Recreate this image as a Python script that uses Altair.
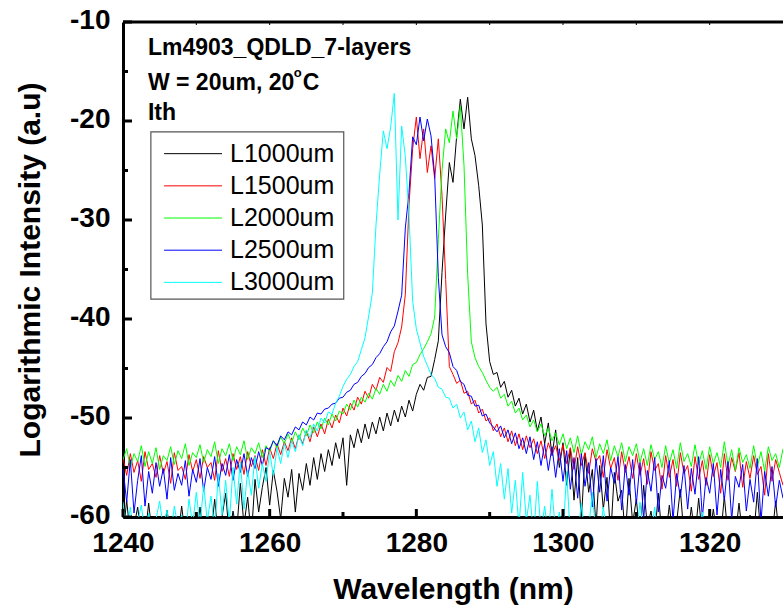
import altair as alt
import numpy as np
import pandas as pd

# ---------------- data ----------------
WL_START, WL_STOP, WL_STEP = 1240.0, 1330.0, 0.5

series_names = ["L1000um", "L1500um", "L2000um", "L2500um", "L3000um"]
series_colors = ["#000000", "#FF0000", "#00FF00", "#0000FF", "#00FFFF"]

l1000 = [
    -62.0, -58.3, -62.0, -61.0, -59.0, -62.0, -62.0, -58.6, -62.0, -60.5, -62.0, -62.0, -59.3, -62.0, -61.5, -62.0, -58.9, -62.0, -62.0, -60.2,
    -62.0, -59.0, -62.0, -61.0, -62.0, -58.2, -62.0, -60.0, -57.6, -62.0, -59.4, -61.5, -56.6, -60.8, -58.0, -62.0, -56.2, -59.5, -57.0, -55.0,
    -58.8, -55.3, -57.4, -60.2, -56.1, -58.0, -55.2, -59.5, -55.6, -57.3, -54.6, -56.8, -54.0, -56.2, -53.6, -55.4, -53.2, -54.8, -52.5, -54.1,
    -52.0, -56.8, -51.7, -53.0, -51.1, -52.5, -50.6, -52.1, -50.4, -51.6, -49.9, -51.3, -49.5, -50.8, -49.2, -50.4, -48.8, -49.9, -48.2, -49.3,
    -47.6, -46.6, -47.2, -45.9, -45.8, -44.1, -42.2, -35.3, -29.5, -24.2, -26.2, -21.5, -17.8, -20.8, -17.6, -21.8, -23.5, -26.5, -30.5, -40.5,
    -44.3, -45.6, -45.4, -46.9, -46.3, -47.9, -47.2, -48.8, -48.0, -49.6, -48.6, -50.4, -49.2, -51.3, -49.9, -52.6, -50.5, -53.8, -51.2, -55.0,
    -52.5, -56.8, -53.1, -58.3, -54.0, -60.4, -53.6, -57.5, -55.2, -61.0, -54.8, -59.2, -56.0, -62.0, -55.5, -58.4, -57.3, -62.0, -56.1, -60.6,
    -58.2, -62.0, -56.8, -61.0, -59.4, -62.0, -57.6, -62.0, -62.0, -58.8, -62.0, -60.5, -57.2, -62.0, -62.0, -59.0, -62.0, -58.1, -62.0, -61.2,
    -62.0, -59.2, -62.0, -62.0, -57.9, -62.0, -60.4, -62.0, -58.6, -62.0, -62.0, -59.8, -62.0, -57.5, -62.0, -62.0, -60.0, -62.0, -58.4, -62.0, -61.0,
]

l1500 = [
    -54.0, -55.8, -53.6, -55.5, -54.3, -56.4, -53.4, -55.2, -54.6, -56.0, -53.8, -55.6, -54.4, -56.6, -53.5, -55.3, -54.9, -56.2, -53.7, -55.4,
    -54.2, -56.1, -53.9, -55.0, -54.5, -56.3, -53.3, -55.4, -54.1, -55.9, -53.6, -55.2, -53.9, -55.7, -53.4, -54.9, -53.8, -55.3, -53.2, -54.8,
    -53.0, -54.1, -52.6, -53.7, -52.4, -53.3, -52.0, -53.1, -51.7, -52.6, -51.3, -52.4, -50.9, -51.9, -50.6, -51.6, -50.1, -51.0, -49.7, -50.5,
    -49.0, -49.8, -48.5, -49.2, -47.9, -48.6, -47.3, -48.0, -46.6, -47.2, -45.9, -46.4, -44.9, -45.3, -43.3, -42.4, -40.8, -37.5, -28.5, -22.8,
    -19.6, -23.8, -20.8, -25.2, -22.5, -25.8, -21.8, -27.5, -36.0, -44.8, -45.6, -46.5, -46.2, -47.5, -47.3, -48.6, -48.2, -49.5, -49.1, -50.3,
    -50.0, -51.3, -50.6, -51.9, -51.0, -52.4, -51.3, -52.8, -51.6, -53.2, -51.8, -53.0, -52.1, -53.6, -52.3, -54.1, -52.5, -53.7, -52.8, -54.3,
    -52.7, -54.6, -53.0, -55.2, -52.9, -54.8, -53.5, -55.6, -53.1, -54.4, -53.8, -56.0, -53.2, -55.1, -54.0, -56.3, -53.4, -55.5, -53.9, -56.1,
    -53.6, -55.8, -54.1, -56.7, -53.4, -55.3, -54.6, -57.2, -53.8, -56.0, -54.2, -56.9, -53.5, -55.6, -54.8, -57.4, -53.9, -56.2, -54.3, -56.8,
    -53.7, -55.9, -54.5, -57.6, -53.6, -56.3, -54.0, -55.4, -53.5, -57.0, -54.4, -56.1, -53.8, -55.7, -54.9, -57.8, -53.6, -56.4, -54.2, -55.5, -56.8,
]

l2000 = [
    -54.2, -53.1, -55.0, -53.6, -54.4, -52.8, -54.9, -53.4, -54.6, -53.0, -55.2, -53.8, -54.3, -52.9, -54.7, -53.3, -54.1, -52.6, -54.8, -53.5,
    -54.0, -52.7, -54.5, -53.2, -53.9, -52.4, -54.6, -53.1, -53.8, -52.6, -54.3, -52.9, -53.7, -52.3, -54.2, -53.0, -53.6, -52.5, -54.0, -52.8,
    -53.4, -52.3, -53.0, -51.9, -52.6, -51.6, -52.5, -51.4, -52.2, -51.0, -51.8, -50.7, -51.5, -50.4, -51.1, -50.0, -50.7, -49.6, -50.3, -49.3,
    -49.6, -48.6, -49.2, -48.2, -48.9, -47.9, -48.4, -47.5, -48.1, -47.0, -47.6, -46.6, -47.3, -46.2, -46.8, -45.7, -46.3, -45.2, -45.8, -44.6,
    -44.4, -43.6, -43.0, -42.3, -41.5, -39.8, -32.0, -25.0, -20.8, -22.2, -19.0, -21.8, -18.5, -24.5, -35.5, -42.3, -43.9, -44.8, -45.4, -46.2,
    -46.9, -47.3, -46.9, -48.0, -47.6, -48.8, -48.3, -49.5, -49.0, -50.2, -49.7, -50.9, -50.2, -51.4, -50.6, -51.8, -51.0, -52.3, -51.5, -52.7,
    -51.6, -53.1, -52.0, -53.5, -51.8, -53.7, -52.4, -53.2, -51.9, -54.0, -52.6, -53.6, -52.2, -54.3, -52.8, -53.9, -52.5, -54.4, -52.9, -53.8,
    -52.6, -54.5, -53.1, -54.8, -52.7, -54.2, -53.4, -55.0, -52.8, -54.6, -53.2, -55.1, -52.5, -54.4, -53.6, -54.9, -52.7, -54.7, -53.3, -55.2,
    -52.9, -54.6, -53.5, -55.0, -52.4, -54.8, -53.2, -55.3, -53.0, -54.5, -53.7, -55.1, -52.8, -54.9, -53.4, -55.4, -52.9, -54.3, -53.6, -55.0, -53.1,
]

l2500 = [
    -55.0, -58.5, -54.2, -59.6, -56.3, -53.8, -58.9, -55.4, -57.6, -54.5, -56.9, -55.1, -58.2, -54.0, -57.3, -55.6, -56.8, -54.3, -57.9, -55.2,
    -56.5, -54.1, -57.4, -55.0, -56.2, -53.9, -56.9, -54.6, -55.8, -53.7, -56.3, -54.2, -55.5, -53.6, -55.9, -54.0, -55.1, -53.4, -54.8, -53.0,
    -53.2, -52.3, -52.8, -51.8, -52.2, -51.4, -51.7, -50.9, -51.2, -50.4, -50.7, -49.9, -50.2, -49.5, -49.6, -49.1, -49.0, -48.6, -48.5, -48.0,
    -47.9, -47.4, -47.2, -46.6, -46.4, -45.8, -45.5, -44.9, -44.6, -43.9, -43.5, -42.8, -42.3, -41.3, -40.7, -39.2, -37.6, -30.8, -27.2, -21.6,
    -22.4, -19.6, -22.0, -19.8, -21.5, -25.5, -35.8, -41.6, -42.8, -43.4, -44.8, -45.2, -46.3, -46.6, -47.7, -47.8, -48.8, -48.7, -49.8, -49.6,
    -50.5, -50.9, -51.4, -50.8, -52.0, -51.2, -52.6, -51.5, -53.1, -52.0, -53.6, -51.9, -54.2, -52.4, -54.8, -52.6, -55.3, -52.9, -56.0, -53.1,
    -56.4, -53.3, -57.2, -54.0, -58.1, -53.6, -56.9, -54.5, -59.0, -54.1, -57.5, -53.8, -58.4, -55.0, -56.6, -53.9, -59.3, -54.7, -57.8, -54.2,
    -58.7, -54.5, -60.2, -55.3, -57.4, -54.0, -59.5, -55.8, -57.1, -54.3, -60.4, -55.6, -58.0, -54.8, -59.2, -55.1, -57.7, -53.9, -60.1, -56.0,
    -57.6, -54.6, -59.8, -55.2, -58.3, -54.4, -60.3, -55.9, -57.0, -54.7, -59.4, -56.2, -58.5, -54.1, -60.5, -55.4, -57.9, -54.9, -59.0, -56.3, -58.1,
]

l3000 = [
    -58.5, -61.5, -59.0, -62.0, -60.5, -58.8, -61.8, -59.6, -62.0, -60.2, -58.4, -61.2, -59.3, -62.0, -58.9, -61.0, -59.8, -62.0, -58.2, -60.8,
    -57.5, -61.0, -56.8, -60.4, -57.9, -61.5, -55.6, -59.8, -56.3, -60.6, -55.0, -58.7, -54.4, -59.2, -55.3, -57.8, -53.9, -57.1, -54.6, -56.4,
    -53.4, -55.8, -53.0, -54.6, -52.6, -54.0, -52.3, -53.4, -51.7, -52.8, -51.2, -52.0, -50.6, -51.3, -50.0, -50.5, -49.4, -49.6, -48.5, -47.8,
    -46.8, -46.1, -45.6, -44.8, -44.3, -43.1, -41.9, -39.7, -37.4, -30.5, -25.4, -21.0, -22.8, -20.6, -17.2, -30.0, -20.5, -23.6, -29.5, -38.2,
    -41.0, -42.4, -43.8, -44.7, -45.6, -46.0, -46.9, -47.1, -47.9, -48.0, -49.0, -48.6, -50.0, -49.4, -51.2, -50.3, -52.4, -51.0, -53.5, -52.2,
    -54.8, -53.4, -56.9, -54.6, -58.2, -55.1, -59.6, -56.3, -61.0, -55.5, -60.4, -57.8, -62.0, -56.4, -61.5, -58.9, -62.0, -57.2, -61.8, -59.5,
    -62.0, -55.4, -62.0, -60.8, -62.0, -58.6, -62.0, -61.2, -57.5, -62.0, -62.0, -59.0, -62.0, -62.0, -62.0, -61.0, -62.0, -62.0, -62.0, -62.0,
    -62.0, -58.5, -62.0, -62.0, -62.0, -59.0, -62.0, -62.0, -62.0, -62.0, -62.0, -62.0, -62.0, -62.0, -62.0, -62.0, -62.0, -62.0, -59.5, -62.0,
    -62.0, -62.0, -62.0, -62.0, -62.0, -62.0, -62.0, -62.0, -62.0, -62.0, -62.0, -62.0, -62.0, -62.0, -62.0, -62.0, -62.0, -62.0, -62.0, -62.0, -62.0,
]

x_tick_labels = [1240, 1260, 1280, 1300, 1320]
x_minor_ticks = [1250, 1270, 1290, 1310]
top_ticks = [1250, 1260, 1270, 1280, 1290, 1300, 1310, 1320]
y_tick_labels = [-60, -50, -40, -30, -20, -10]
y_minor_ticks = [-55, -45, -35, -25, -15]

annotation_lines = ["Lm4903_QDLD_7-layers", "W = 20um, 20", "Ith"]

# ---------------- build tables ----------------
wavelength = np.round(np.arange(WL_START, WL_STOP + WL_STEP / 2, WL_STEP), 2)
frames = []
for name, vals in zip(series_names, [l1000, l1500, l2000, l2500, l3000]):
    assert len(vals) == len(wavelength), (name, len(vals))
    frames.append(pd.DataFrame({"wavelength": wavelength, "intensity": vals, "series": name}))
df = pd.concat(frames, ignore_index=True)

FONT = "Liberation Sans"
W, H = 660, 495
XDOM = [1240, 1330]
YDOM = [-60, -10]
xs = alt.Scale(domain=XDOM, nice=False, zero=False)
ys = alt.Scale(domain=YDOM, nice=False, zero=False)
color_scale = alt.Scale(domain=series_names, range=series_colors)

X_AXIS = alt.Axis(
    title="Wavelength (nm)", values=x_tick_labels, labelExpr="datum.value + ''", ticks=False, grid=False,
    domainWidth=3, domainColor="black", labelFont=FONT, labelFontWeight="bold",
    labelFontSize=28, labelColor="black", labelPadding=12, labelFlush=False,
    titleFont=FONT, titleFontWeight="bold", titleFontSize=30, titleColor="black",
    titlePadding=17)
Y_AXIS = alt.Axis(
    title="Logarithmic Intensity (a.u)", values=y_tick_labels, labelExpr="datum.value + ''", ticks=False, grid=False,
    domainWidth=3, domainColor="black", labelFont=FONT, labelFontWeight="bold",
    labelFontSize=28, labelColor="black", labelPadding=13, labelFlush=False, labelOffset=-2,
    titleFont=FONT, titleFontWeight="bold", titleFontSize=30, titleColor="black",
    titlePadding=24)


def X(field):
    return alt.X(field, scale=xs, axis=X_AXIS)


def Y(field):
    return alt.Y(field, scale=ys, axis=Y_AXIS)


lines = alt.Chart(df).mark_line(strokeWidth=1, clip=True).encode(
    x=X("wavelength:Q"),
    y=Y("intensity:Q"),
    color=alt.Color("series:N", scale=color_scale, legend=None),
    detail="series:N",
)

# frame top line
top_line = alt.Chart(pd.DataFrame({"k": [0]})).mark_rule(strokeWidth=3, color="black").encode(
    x=alt.value(0), x2=alt.value(W), y=alt.value(0))

# inward ticks
yt_major = alt.Chart(pd.DataFrame({"v": y_tick_labels})).mark_rule(strokeWidth=3, color="black").encode(
    y=Y("v:Q"), x=alt.value(0), x2=alt.value(9))
yt_minor = alt.Chart(pd.DataFrame({"v": y_minor_ticks})).mark_rule(strokeWidth=3, color="black").encode(
    y=Y("v:Q"), x=alt.value(0), x2=alt.value(5))
xt_major = alt.Chart(pd.DataFrame({"w": x_tick_labels})).mark_rule(strokeWidth=3, color="black").encode(
    x=X("w:Q"), y=alt.value(H), y2=alt.value(H - 8))
xt_minor = alt.Chart(pd.DataFrame({"w": x_minor_ticks})).mark_rule(strokeWidth=3, color="black").encode(
    x=X("w:Q"), y=alt.value(H), y2=alt.value(H - 5))
xt_top = alt.Chart(pd.DataFrame({"w": top_ticks})).mark_rule(strokeWidth=1, color="black").encode(
    x=X("w:Q"), y=alt.value(0), y2=alt.value(3))

# annotations
ann_df = pd.DataFrame({"text": annotation_lines, "w": [1243.4, 1243.4, 1243.4], "v": [-12.6, -16.2, -19.2]})
ann = alt.Chart(ann_df).mark_text(align="left", baseline="middle", font=FONT, fontWeight="bold",
                                  fontSize=23, color="black").encode(
    x=X("w:Q"), y=Y("v:Q"), text="text:N")
deg_df = pd.DataFrame({"text": ["o"], "w": [1263.3], "v": [-15.2]})
deg = alt.Chart(deg_df).mark_text(align="left", baseline="middle", font=FONT, fontWeight="bold",
                                  fontSize=13, color="black").encode(
    x=X("w:Q"), y=Y("v:Q"), text="text:N")
c_df = pd.DataFrame({"text": ["C"], "w": [1264.5], "v": [-16.2]})
cc = alt.Chart(c_df).mark_text(align="left", baseline="middle", font=FONT, fontWeight="bold",
                               fontSize=23, color="black").encode(
    x=X("w:Q"), y=Y("v:Q"), text="text:N")

# legend (manual)
box_df = pd.DataFrame({"x1": [1243.8], "x2": [1270.1], "y1": [-21.1], "y2": [-38.0]})
box = alt.Chart(box_df).mark_rect(fill="white", stroke="#555555", strokeWidth=1.2).encode(
    x=X("x1:Q"), x2="x2:Q", y=Y("y1:Q"), y2="y2:Q")
leg_df = pd.DataFrame({
    "series": series_names,
    "ly": [-23.3 - 3.25 * i for i in range(len(series_names))],
    "lx1": [1245.6] * len(series_names),
    "lx2": [1253.5] * len(series_names),
    "tx": [1254.6] * len(series_names),
})
leg_lines = alt.Chart(leg_df).mark_rule(strokeWidth=1).encode(
    x=X("lx1:Q"), x2="lx2:Q", y=Y("ly:Q"),
    color=alt.Color("series:N", scale=color_scale, legend=None))
leg_text = alt.Chart(leg_df).mark_text(align="left", baseline="middle", font=FONT,
                                       fontSize=25, color="black").encode(
    x=X("tx:Q"), y=Y("ly:Q"), text="series:N")

chart = alt.layer(
    lines, top_line, yt_major, yt_minor, xt_major, xt_minor, xt_top,
    ann, deg, cc, box, leg_lines, leg_text,
).properties(
    width=W, height=H,
    autosize=alt.AutoSizeParams(type="none"),
    padding={"left": 123, "top": 22, "right": 0, "bottom": 95},
    background="white",
).configure_view(stroke=None)

chart.save("out.html", embed_options={"renderer": "svg", "actions": False})
